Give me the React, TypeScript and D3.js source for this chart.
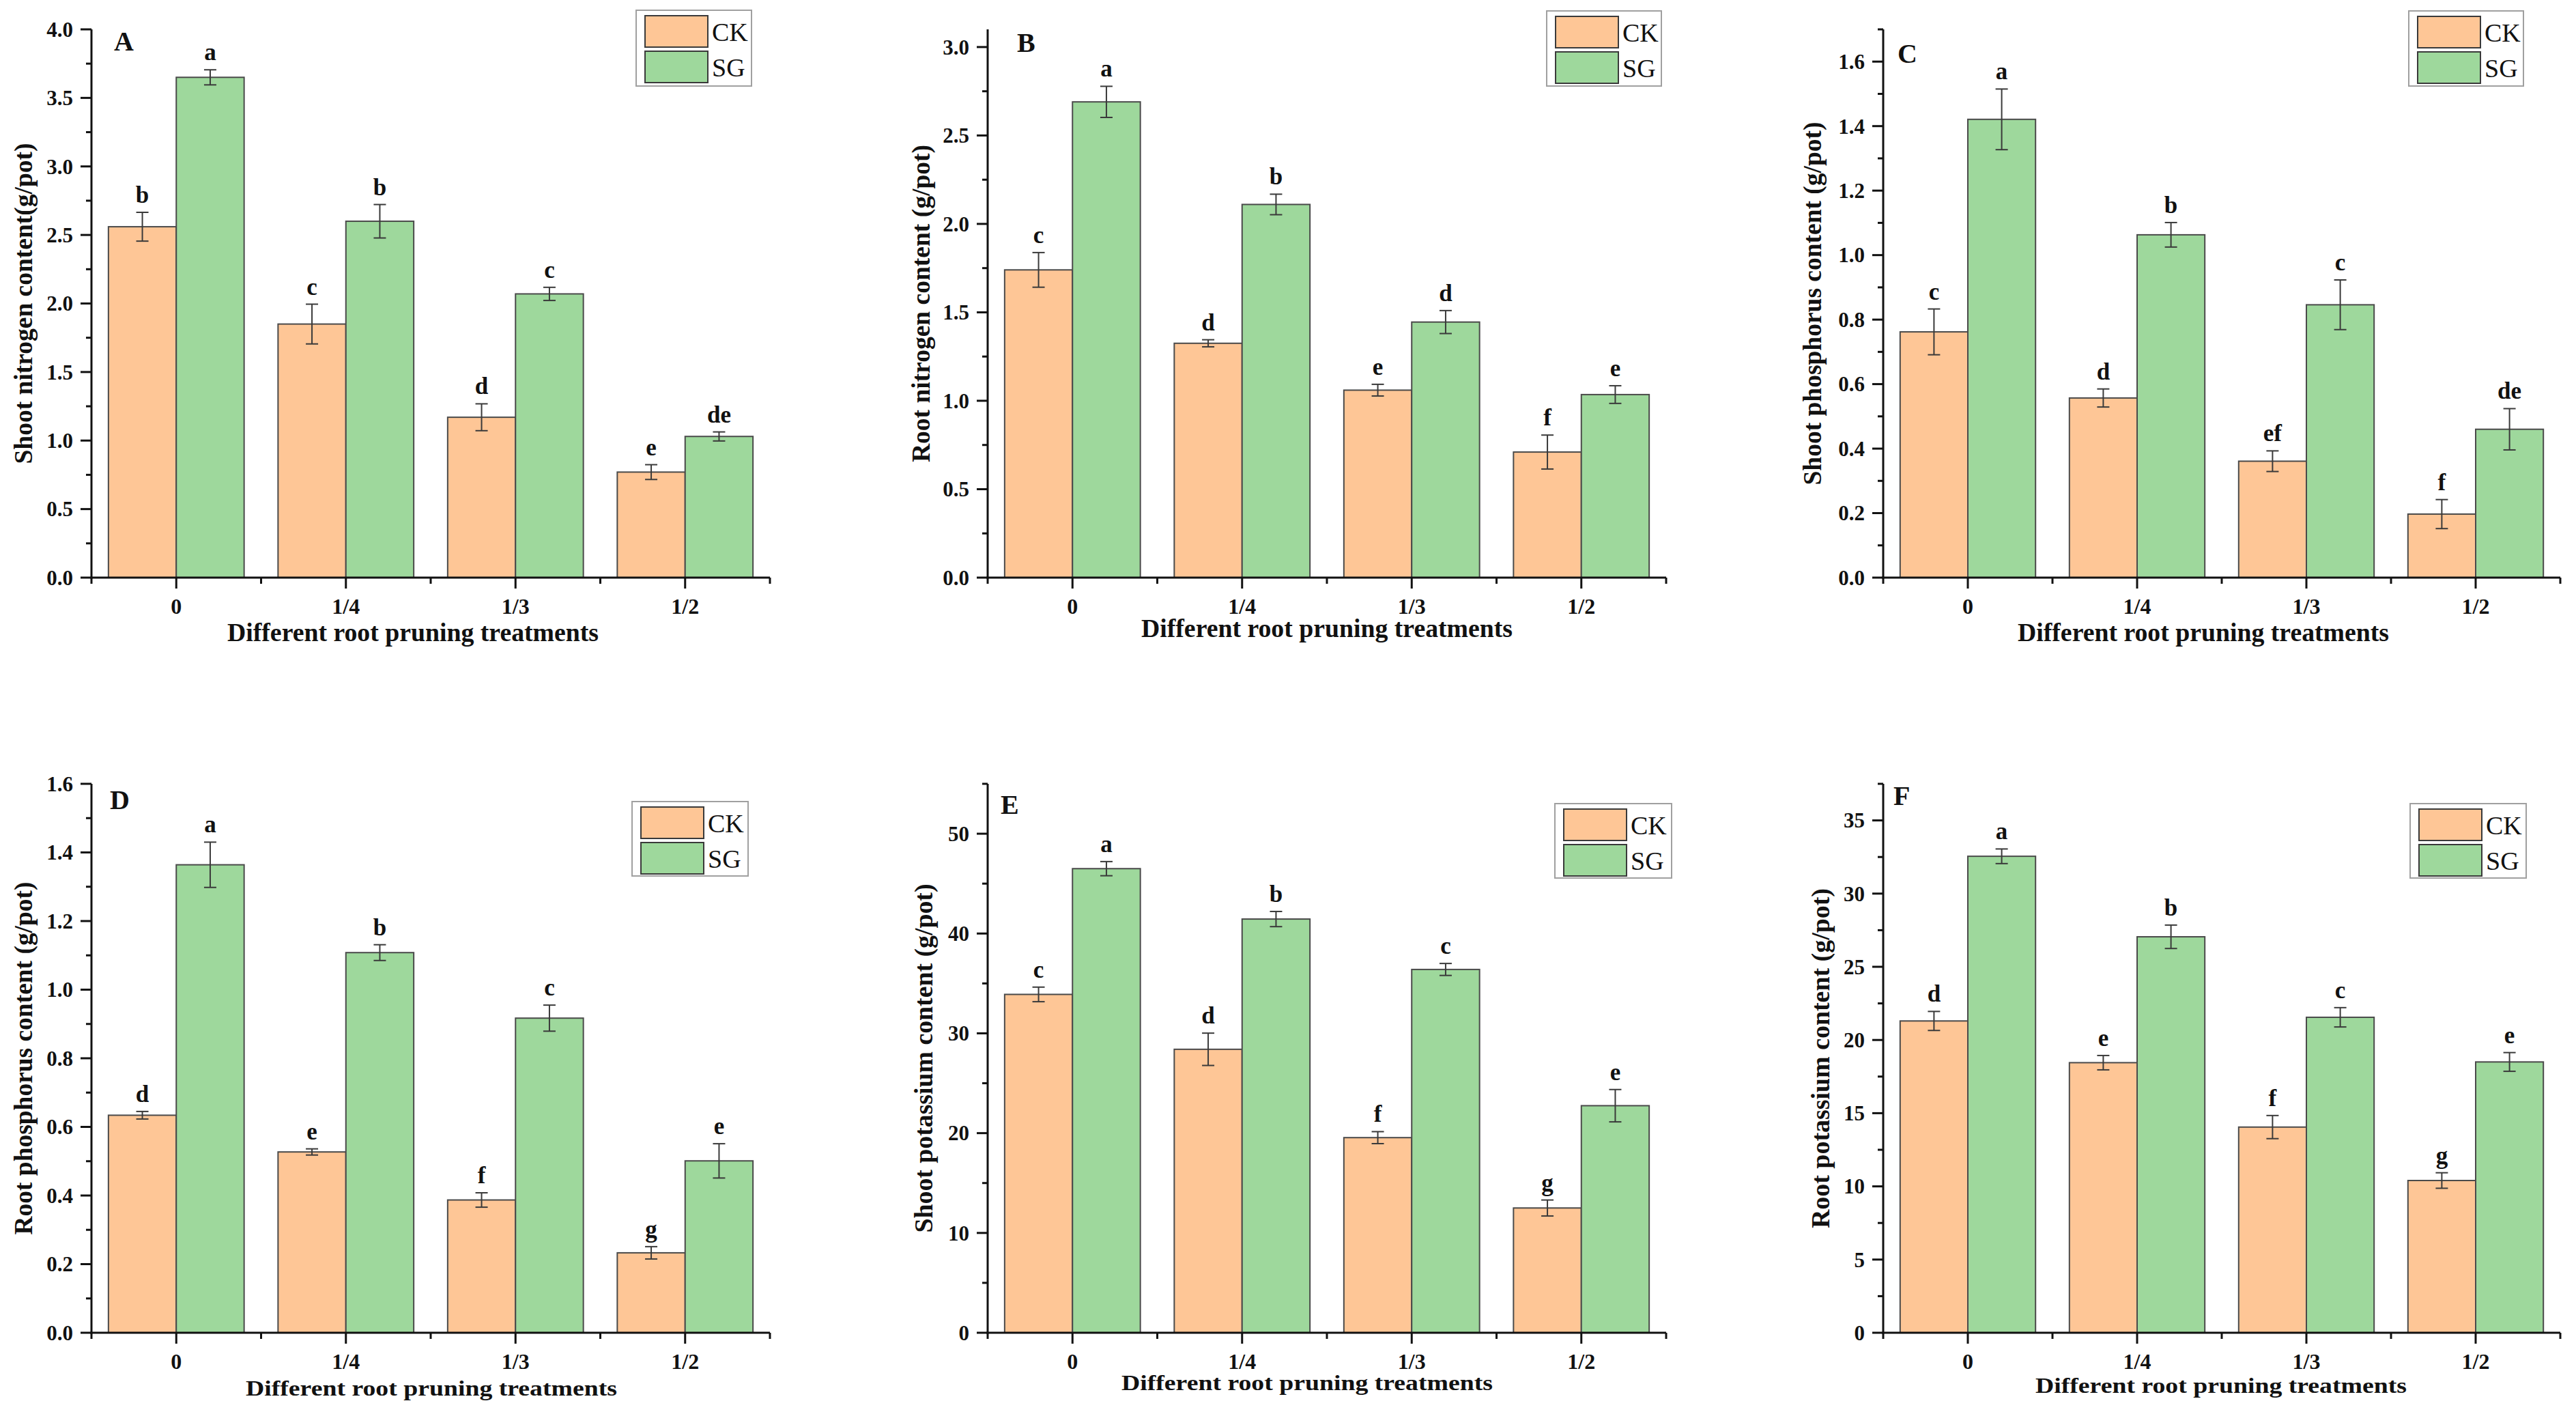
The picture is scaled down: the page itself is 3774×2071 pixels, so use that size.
import * as d3 from "d3";
import React from "react";

const categories = ["0", "1/4", "1/3", "1/2"];
const seriesNames = ["CK", "SG"];
const colors = ["#FEC696", "#9ED89C"];

// A - shoot nitrogen
const ckA = [2.56, 1.85, 1.17, 0.77];
const sgA = [3.65, 2.6, 2.07, 1.03];
const ckErrA = [0.105, 0.145, 0.098, 0.054];
const sgErrA = [0.055, 0.122, 0.048, 0.033];
const ckLetA = ["b", "c", "d", "e"];
const sgLetA = ["a", "b", "c", "de"];

// B - root nitrogen
const ckB = [1.74, 1.325, 1.06, 0.71];
const sgB = [2.69, 2.11, 1.445, 1.035];
const ckErrB = [0.098, 0.02, 0.033, 0.096];
const sgErrB = [0.088, 0.058, 0.065, 0.05];
const ckLetB = ["c", "d", "e", "f"];
const sgLetB = ["a", "b", "d", "e"];

// C - shoot phosphorus
const ckC = [0.762, 0.557, 0.361, 0.197];
const sgC = [1.421, 1.063, 0.846, 0.46];
const ckErrC = [0.071, 0.028, 0.032, 0.045];
const sgErrC = [0.094, 0.038, 0.077, 0.064];
const ckLetC = ["c", "d", "ef", "f"];
const sgLetC = ["a", "b", "c", "de"];

// D - root phosphorus
const ckD = [0.634, 0.527, 0.387, 0.233];
const sgD = [1.364, 1.108, 0.917, 0.501];
const ckErrD = [0.011, 0.009, 0.021, 0.018];
const sgErrD = [0.066, 0.023, 0.038, 0.05];
const ckLetD = ["d", "e", "f", "g"];
const sgLetD = ["a", "b", "c", "e"];

// E - shoot potassium
const ckE = [33.9, 28.4, 19.55, 12.5];
const sgE = [46.5, 41.45, 36.4, 22.75];
const ckErrE = [0.73, 1.62, 0.6, 0.8];
const sgErrE = [0.71, 0.76, 0.6, 1.62];
const ckLetE = ["c", "d", "f", "g"];
const sgLetE = ["a", "b", "c", "e"];

// F - root potassium
const ckF = [21.3, 18.45, 14.05, 10.4];
const sgF = [32.55, 27.05, 21.55, 18.5];
const ckErrF = [0.65, 0.49, 0.79, 0.53];
const sgErrF = [0.5, 0.8, 0.66, 0.64];
const ckLetF = ["d", "e", "f", "g"];
const sgLetF = ["a", "b", "c", "e"];

const xTitle = "Different root pruning treatments";

const FONT = "'Liberation Serif', 'Times New Roman', serif";

type Panel = {
  tag: string;
  yLabel: string;
  values: number[][];
  errs: number[][];
  letters: string[][];
  max: number;
  step: number;
  dec: number;
  x0: number; x1: number; top: number; bot: number;
  tagPos: [number, number];
  legend: [number, number, number, number];
  yLabX: number; yLabLen: number;
  xTitX: number; xTitY: number; xTitSize: number;
};

const top1 = 43, bot1 = 846, top2 = 1148, bot2 = 1952;

const panels: Panel[] = [
  { tag: "A", yLabel: "Shoot nitrogen content(g/pot)", values: [ckA, sgA], errs: [ckErrA, sgErrA], letters: [ckLetA, sgLetA],
    max: 4.0, step: 0.5, dec: 1, x0: 134, x1: 1128, top: top1, bot: bot1, tagPos: [167, 74], legend: [932, 15, 169, 111],
    yLabX: 47, yLabLen: 470, xTitX: 605, xTitY: 939, xTitSize: 37.5 },
  { tag: "B", yLabel: "Root nitrogen content (g/pot)", values: [ckB, sgB], errs: [ckErrB, sgErrB], letters: [ckLetB, sgLetB],
    max: 3.1, step: 0.5, dec: 1, x0: 1447, x1: 2441, top: top1, bot: bot1, tagPos: [1490, 76], legend: [2266, 16, 168, 110],
    yLabX: 1362, yLabLen: 465, xTitX: 1944, xTitY: 933, xTitSize: 37.5 },
  { tag: "C", yLabel: "Shoot phosphorus content (g/pot)", values: [ckC, sgC], errs: [ckErrC, sgErrC], letters: [ckLetC, sgLetC],
    max: 1.7, step: 0.2, dec: 1, x0: 2759, x1: 3751, top: top1, bot: bot1, tagPos: [2780, 92], legend: [3529, 16, 168, 110],
    yLabX: 2668, yLabLen: 532, xTitX: 3228, xTitY: 939, xTitSize: 37.5 },
  { tag: "D", yLabel: "Root phosphorus content (g/pot)", values: [ckD, sgD], errs: [ckErrD, sgErrD], letters: [ckLetD, sgLetD],
    max: 1.6, step: 0.2, dec: 1, x0: 134, x1: 1128, top: top2, bot: bot2, tagPos: [161, 1185], legend: [926, 1174, 170, 109],
    yLabX: 47, yLabLen: 517, xTitX: 632, xTitY: 2044, xTitSize: 31 },
  { tag: "E", yLabel: "Shoot potassium content (g/pot)", values: [ckE, sgE], errs: [ckErrE, sgErrE], letters: [ckLetE, sgLetE],
    max: 55, step: 10, dec: 0, x0: 1447, x1: 2441, top: top2, bot: bot2, tagPos: [1466, 1192], legend: [2278, 1177, 171, 109],
    yLabX: 1366, yLabLen: 511, xTitX: 1915, xTitY: 2036, xTitSize: 31 },
  { tag: "F", yLabel: "Root potassium content (g/pot)", values: [ckF, sgF], errs: [ckErrF, sgErrF], letters: [ckLetF, sgLetF],
    max: 37.5, step: 5, dec: 0, x0: 2759, x1: 3751, top: top2, bot: bot2, tagPos: [2774, 1179], legend: [3531, 1177, 170, 109],
    yLabX: 2680, yLabLen: 498, xTitX: 3254, xTitY: 2040, xTitSize: 31 },
];

const ChartPanel: React.FC<{ p: Panel }> = ({ p }) => {
  const x = d3.scaleBand(categories, [p.x0, p.x1]);
  const inner = d3.scaleBand(seriesNames, [0, x.bandwidth()]).paddingOuter(0.25);
  const y = d3.scaleLinear([0, p.max], [p.bot, p.top]);
  const major = d3.range(0, p.max + 1e-9, p.step);
  const minor = d3.range(p.step / 2, p.max + 1e-9, p.step);
  const fmt = d3.format(`.${p.dec}f`);
  const bounds = [...categories.map(c => x(c)!), p.x1];
  const [lx, ly, lw, lh] = p.legend;
  const yMid = (p.top + p.bot) / 2;

  return (
    <g fontFamily={FONT}>
      {/* bars */}
      {seriesNames.map((s, si) =>
        categories.map((c, ci) => {
          const v = p.values[si][ci];
          const e = p.errs[si][ci];
          const bx = x(c)! + inner(s)!;
          const bw = inner.bandwidth();
          const cx = bx + bw / 2;
          return (
            <g key={s + c}>
              <rect x={bx} y={y(v)} width={bw} height={y(0) - y(v)} fill={colors[si]} stroke="#4a4a4a" strokeWidth={2} />
              <g stroke="#3a3a3a" strokeWidth={2}>
                <line x1={cx} x2={cx} y1={y(v + e)} y2={y(v - e)} />
                <line x1={cx - 9} x2={cx + 9} y1={y(v + e)} y2={y(v + e)} />
                <line x1={cx - 9} x2={cx + 9} y1={y(v - e)} y2={y(v - e)} />
              </g>
              <text x={cx} y={y(v + e) - 14} textAnchor="middle" fontWeight="bold" fontSize={35} fill="#111">
                {p.letters[si][ci]}
              </text>
            </g>
          );
        })
      )}
      {/* y axis */}
      <g stroke="#111" strokeWidth={3}>
        <line x1={p.x0} x2={p.x0} y1={p.top} y2={p.bot + 1.5} />
        {major.map(t => <line key={"M" + t} x1={p.x0 - 16} x2={p.x0} y1={y(t)} y2={y(t)} />)}
        {minor.map(t => <line key={"m" + t} x1={p.x0 - 8} x2={p.x0} y1={y(t)} y2={y(t)} />)}
        <line x1={p.x0 - 1.5} x2={p.x1} y1={p.bot} y2={p.bot} />
        {categories.map(c => {
          const cx = x(c)! + x.bandwidth() / 2;
          return <line key={"xt" + c} x1={cx} x2={cx} y1={p.bot} y2={p.bot + 16} />;
        })}
        {bounds.map((b, i) => <line key={"xb" + i} x1={b} x2={b} y1={p.bot} y2={p.bot + 9} />)}
      </g>
      {major.map(t => (
        <text key={"L" + t} x={p.x0 - 27} y={y(t)} dy="0.35em" textAnchor="end" fontWeight="bold" fontSize={31} fill="#111">
          {fmt(t)}
        </text>
      ))}
      {categories.map(c => (
        <text key={"xl" + c} x={x(c)! + x.bandwidth() / 2} y={p.bot + 53} textAnchor="middle" fontWeight="bold" fontSize={32} fill="#111">
          {c}
        </text>
      ))}
      {/* titles */}
      <text x={p.xTitX} y={p.xTitY} textAnchor="middle" fontWeight="bold" fontSize={p.xTitSize} textLength={544}
        lengthAdjust="spacingAndGlyphs" fill="#111">{xTitle}</text>
      <text transform={`translate(${p.yLabX},${yMid}) rotate(-90)`} textAnchor="middle" fontWeight="bold" fontSize={37.5}
        textLength={p.yLabLen} lengthAdjust="spacingAndGlyphs" fill="#111">{p.yLabel}</text>
      <text x={p.tagPos[0]} y={p.tagPos[1]} fontWeight="bold" fontSize={40} fill="#111">{p.tag}</text>
      {/* legend */}
      <rect x={lx} y={ly} width={lw} height={lh} fill="#fff" stroke="#a0a0a0" strokeWidth={2} />
      {seriesNames.map((s, si) => {
        const sy = ly + 8 + si * 52;
        return (
          <g key={"lg" + s}>
            <rect x={lx + 13} y={sy} width={92} height={46} fill={colors[si]} stroke="#3a3a3a" strokeWidth={2} />
            <text x={lx + 111} y={sy + 37} fontSize={38} fill="#111">{s}</text>
          </g>
        );
      })}
    </g>
  );
};

export default function App() {
  return (
    <svg width={3774} height={2071} style={{ position: "absolute", left: 0, top: 0, background: "#fff" }}>
      <rect width={3774} height={2071} fill="#fff" />
      {panels.map(p => <ChartPanel key={p.tag} p={p} />)}
    </svg>
  );
}
